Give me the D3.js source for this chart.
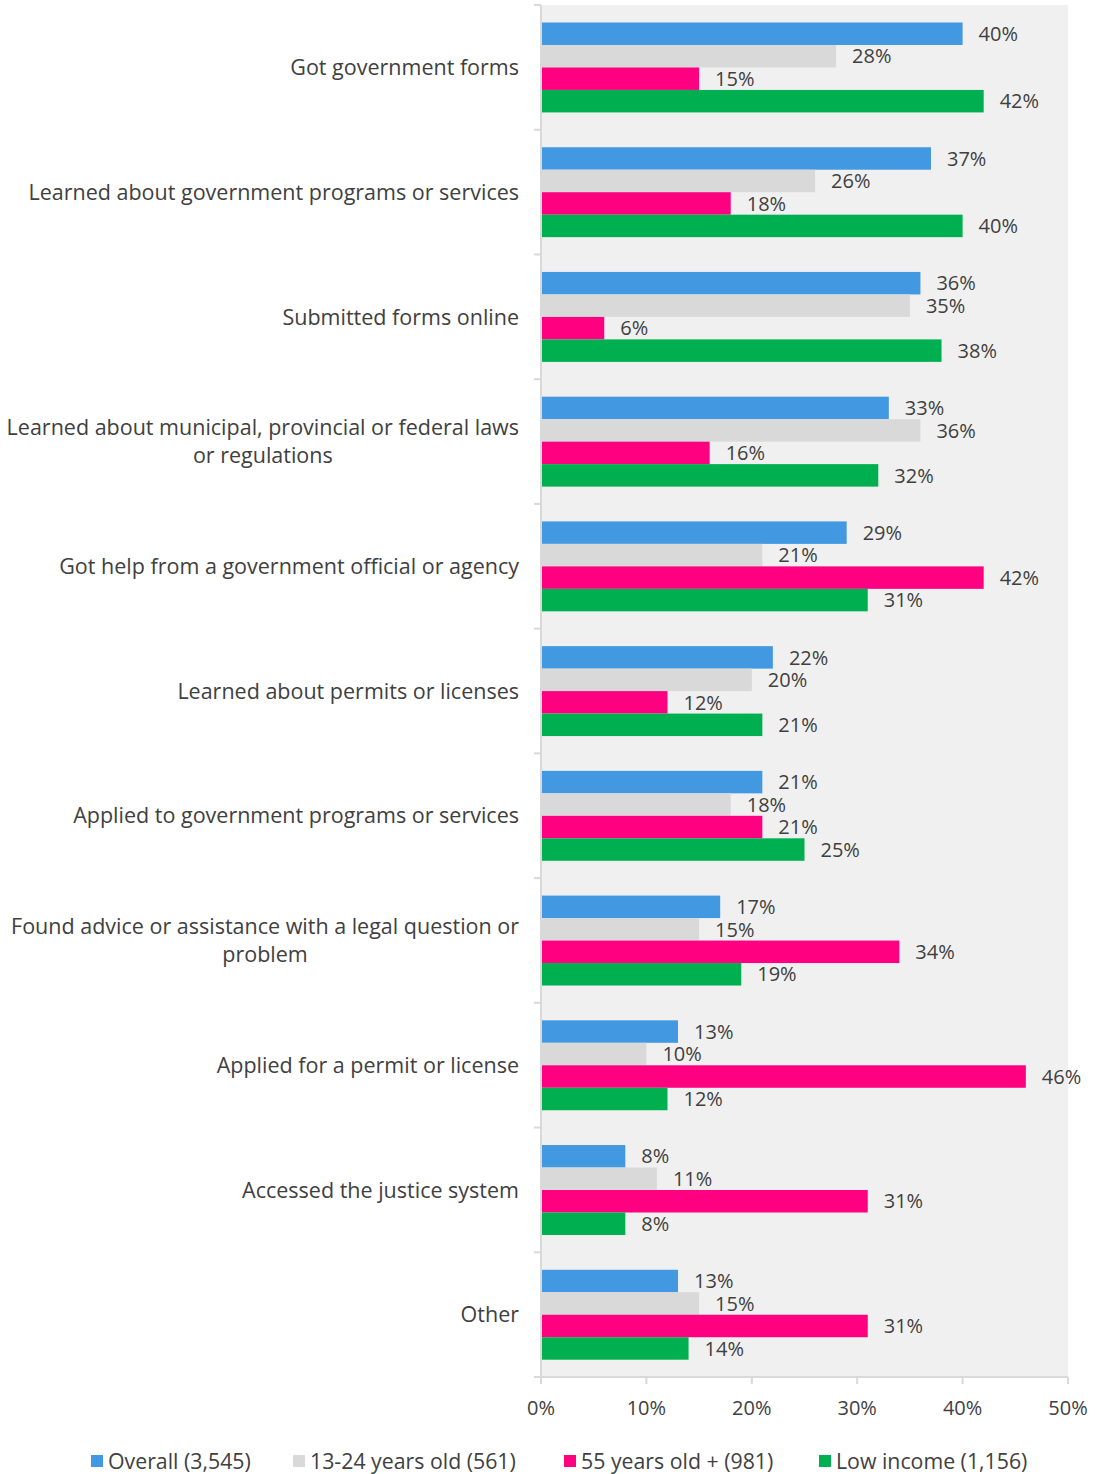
<!DOCTYPE html>
<html>
<head>
<meta charset="utf-8">
<script src="https://cdn.jsdelivr.net/npm/d3@7"></script>
<style>
  html, body { margin: 0; padding: 0; background: #fff; }
  svg text { font-family: "Open Sans", "Noto Sans", sans-serif; fill: #404040; }
</style>
</head>
<body>
<svg id="chart" width="1095" height="1474"></svg>
<script>
// Online government activities by respondent group (% of respondents)
const categories = [
  ["Got government forms"],
  ["Learned about government programs or services"],
  ["Submitted forms online"],
  ["Learned about municipal, provincial or federal laws", "or regulations"],
  ["Got help from a government official or agency"],
  ["Learned about permits or licenses"],
  ["Applied to government programs or services"],
  ["Found advice or assistance with a legal question or", "problem"],
  ["Applied for a permit or license"],
  ["Accessed the justice system"],
  ["Other"]
];
const seriesNames = ["Overall (3,545)", "13-24 years old (561)", "55 years old + (981)", "Low income (1,156)"];
const overall   = [40, 37, 36, 33, 29, 22, 21, 17, 13, 8, 13];
const youth     = [28, 26, 35, 36, 21, 20, 18, 15, 10, 11, 15];
const seniors   = [15, 18, 6, 16, 42, 12, 21, 34, 46, 31, 31];
const lowIncome = [42, 40, 38, 32, 31, 21, 25, 19, 12, 8, 14];
const xTicks = [0, 10, 20, 30, 40, 50];
const colors = ["#4299e1", "#d9d9d9", "#ff0080", "#00b050"];

const series = [overall, youth, seniors, lowIncome];

const svg = d3.select("#chart");
const plotL = 541, plotR = 1068, plotT = 5, plotB = 1377;

const x = d3.scaleLinear().domain([0, 50]).range([plotL, plotR]);
const y0 = d3.scaleBand().domain(d3.range(categories.length)).range([plotT, plotB]).padding(0);
const bw = y0.bandwidth();
const y1 = d3.scaleBand().domain(d3.range(series.length)).range([17.5, bw - 17.3]).padding(0);

// plot background
svg.append("rect")
  .attr("x", plotL).attr("y", plotT)
  .attr("width", plotR - plotL).attr("height", plotB - plotT)
  .attr("fill", "#f0f0f0");

// bars and value labels
const groups = svg.selectAll("g.cat")
  .data(categories.map((c, i) => i))
  .join("g")
  .attr("class", "cat")
  .attr("transform", i => `translate(0,${y0(i)})`);

groups.each(function (ci) {
  const g = d3.select(this);
  series.forEach((s, si) => {
    g.append("rect")
      .attr("x", x(0))
      .attr("y", y1(si))
      .attr("width", x(s[ci]) - x(0))
      .attr("height", y1.bandwidth())
      .attr("fill", colors[si]);
    g.append("text")
      .attr("x", x(s[ci]) + 16)
      .attr("y", y1(si) + y1.bandwidth() / 2)
      .attr("dy", "0.36em")
      .attr("font-size", 20)
      .text(s[ci] + "%");
  });
});

// category axis (left)
const yAxis = svg.append("g")
  .attr("transform", `translate(${plotL},0)`);
yAxis.append("line")
  .attr("x1", 0).attr("x2", 0).attr("y1", plotT).attr("y2", plotB)
  .attr("stroke", "#d9d9d9").attr("stroke-width", 2);
yAxis.selectAll("line.tick")
  .data(d3.range(categories.length + 1))
  .join("line")
  .attr("class", "tick")
  .attr("x1", -7).attr("x2", 0)
  .attr("y1", i => plotT + i * bw).attr("y2", i => plotT + i * bw)
  .attr("stroke", "#d9d9d9").attr("stroke-width", 2);

// category labels, right aligned, multi-line blocks centred
const labelRight = 519;
const lineH = 28;
categories.forEach((lines, i) => {
  const cy = y0(i) + bw / 2;
  const t = svg.append("text")
    .attr("font-size", 21.5)
    .attr("text-anchor", "middle");
  const spans = lines.map((ln, li) =>
    t.append("tspan")
      .attr("x", 0)
      .attr("y", cy + (li - (lines.length - 1) / 2) * lineH)
      .attr("dy", "0.36em")
      .text(ln));
  const w = d3.max(spans, s => s.node().getComputedTextLength());
  spans.forEach(s => s.attr("x", labelRight - w / 2));
});

// value axis (bottom)
const xAxis = svg.append("g").attr("transform", `translate(0,${plotB})`);
xAxis.append("line")
  .attr("x1", plotL).attr("x2", plotR)
  .attr("stroke", "#d9d9d9").attr("stroke-width", 2);
xAxis.selectAll("line.tick")
  .data(xTicks)
  .join("line")
  .attr("class", "tick")
  .attr("x1", d => x(d)).attr("x2", d => x(d))
  .attr("y1", 0).attr("y2", 7)
  .attr("stroke", "#d9d9d9").attr("stroke-width", 2);
xAxis.selectAll("text")
  .data(xTicks)
  .join("text")
  .attr("x", d => x(d))
  .attr("y", 31)
  .attr("dy", "0.36em")
  .attr("text-anchor", "middle")
  .attr("font-size", 20)
  .text(d => d + "%");

// legend
const legendX = [91, 293, 564, 819];
const legend = svg.append("g").attr("transform", "translate(0,1461)");
seriesNames.forEach((name, i) => {
  legend.append("rect")
    .attr("x", legendX[i]).attr("y", -6)
    .attr("width", 12).attr("height", 12)
    .attr("fill", colors[i]);
  legend.append("text")
    .attr("x", legendX[i] + 17)
    .attr("y", 0)
    .attr("dy", "0.36em")
    .attr("font-size", 21.3)
    .text(name);
});
</script>
</body>
</html>
